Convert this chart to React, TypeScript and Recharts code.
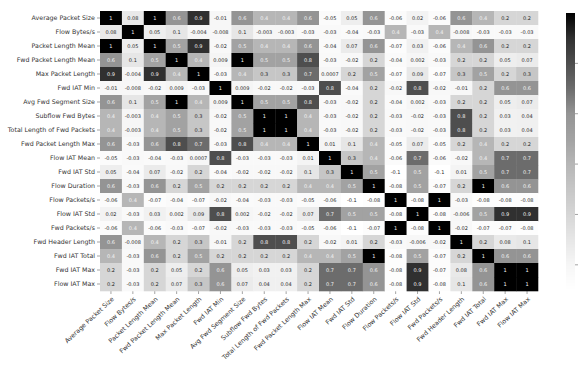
import { ScatterChart, Scatter, XAxis, YAxis } from "recharts";

const features = [
  "Average Packet Size",
  "Flow Bytes/s",
  "Packet Length Mean",
  "Fwd Packet Length Mean",
  "Max Packet Length",
  "Fwd IAT Min",
  "Avg Fwd Segment Size",
  "Subflow Fwd Bytes",
  "Total Length of Fwd Packets",
  "Fwd Packet Length Max",
  "Flow IAT Mean",
  "Fwd IAT Std",
  "Flow Duration",
  "Flow Packets/s",
  "Flow IAT Std",
  "Fwd Packets/s",
  "Fwd Header Length",
  "Fwd IAT Total",
  "Fwd IAT Max",
  "Flow IAT Max",
];

// correlation rows
const rowAvgPacketSize = [1, 0.08, 1, 0.6, 0.9, -0.01, 0.6, 0.4, 0.4, 0.6, -0.05, 0.05, 0.6, -0.06, 0.02, -0.06, 0.6, 0.4, 0.2, 0.2];
const rowFlowBytes = [0.08, 1, 0.05, 0.1, -0.004, -0.008, 0.1, -0.003, -0.003, -0.03, -0.03, -0.04, -0.03, 0.4, -0.03, 0.4, -0.008, -0.03, -0.03, -0.03];
const rowPacketLenMean = [1, 0.05, 1, 0.5, 0.9, -0.02, 0.5, 0.4, 0.4, 0.6, -0.04, 0.07, 0.6, -0.07, 0.03, -0.06, 0.4, 0.6, 0.2, 0.2];
const rowFwdPacketLenMean = [0.6, 0.1, 0.5, 1, 0.4, 0.009, 1, 0.5, 0.5, 0.8, -0.03, -0.02, 0.2, -0.04, 0.002, -0.03, 0.2, 0.2, 0.05, 0.07];
const rowMaxPacketLen = [0.9, -0.004, 0.9, 0.4, 1, -0.03, 0.4, 0.3, 0.3, 0.7, 0.0007, 0.2, 0.5, -0.07, 0.09, -0.07, 0.3, 0.5, 0.2, 0.3];
const rowFwdIatMin = [-0.01, -0.008, -0.02, 0.009, -0.03, 1, 0.009, -0.02, -0.02, -0.03, 0.8, -0.04, 0.2, -0.02, 0.8, -0.02, -0.01, 0.2, 0.6, 0.6];
const rowAvgFwdSegSize = [0.6, 0.1, 0.5, 1, 0.4, 0.009, 1, 0.5, 0.5, 0.8, -0.03, -0.02, 0.2, -0.04, 0.002, -0.03, 0.2, 0.2, 0.05, 0.07];
const rowSubflowFwdBytes = [0.4, -0.003, 0.4, 0.5, 0.3, -0.02, 0.5, 1, 1, 0.4, -0.03, -0.02, 0.2, -0.03, -0.02, -0.03, 0.8, 0.2, 0.03, 0.04];
const rowTotalLenFwd = [0.4, -0.003, 0.4, 0.5, 0.3, -0.02, 0.5, 1, 1, 0.4, -0.03, -0.02, 0.2, -0.03, -0.02, -0.03, 0.8, 0.2, 0.03, 0.04];
const rowFwdPacketLenMax = [0.6, -0.03, 0.6, 0.8, 0.7, -0.03, 0.8, 0.4, 0.4, 1, 0.01, 0.1, 0.4, -0.05, 0.07, -0.05, 0.2, 0.4, 0.2, 0.2];
const rowFlowIatMean = [-0.05, -0.03, -0.04, -0.03, 0.0007, 0.8, -0.03, -0.03, -0.03, 0.01, 1, 0.3, 0.4, -0.06, 0.7, -0.06, -0.02, 0.4, 0.7, 0.7];
const rowFwdIatStd = [0.05, -0.04, 0.07, -0.02, 0.2, -0.04, -0.02, -0.02, -0.02, 0.1, 0.3, 1, 0.5, -0.1, 0.5, -0.1, 0.01, 0.5, 0.7, 0.7];
const rowFlowDuration = [0.6, -0.03, 0.6, 0.2, 0.5, 0.2, 0.2, 0.2, 0.2, 0.4, 0.4, 0.5, 1, -0.08, 0.5, -0.07, 0.2, 1, 0.6, 0.6];
const rowFlowPackets = [-0.06, 0.4, -0.07, -0.04, -0.07, -0.02, -0.04, -0.03, -0.03, -0.05, -0.06, -0.1, -0.08, 1, -0.08, 1, -0.03, -0.08, -0.08, -0.08];
const rowFlowIatStd = [0.02, -0.03, 0.03, 0.002, 0.09, 0.8, 0.002, -0.02, -0.02, 0.07, 0.7, 0.5, 0.5, -0.08, 1, -0.08, -0.006, 0.5, 0.9, 0.9];
const rowFwdPackets = [-0.06, 0.4, -0.06, -0.03, -0.07, -0.02, -0.03, -0.03, -0.03, -0.05, -0.06, -0.1, -0.07, 1, -0.08, 1, -0.02, -0.07, -0.07, -0.08];
const rowFwdHeaderLen = [0.6, -0.008, 0.4, 0.2, 0.3, -0.01, 0.2, 0.8, 0.8, 0.2, -0.02, 0.01, 0.2, -0.03, -0.006, -0.02, 1, 0.2, 0.08, 0.1];
const rowFwdIatTotal = [0.4, -0.03, 0.6, 0.2, 0.5, 0.2, 0.2, 0.2, 0.2, 0.4, 0.4, 0.5, 1, -0.08, 0.5, -0.07, 0.2, 1, 0.6, 0.6];
const rowFwdIatMax = [0.2, -0.03, 0.2, 0.05, 0.2, 0.6, 0.05, 0.03, 0.03, 0.2, 0.7, 0.7, 0.6, -0.08, 0.9, -0.07, 0.08, 0.6, 1, 1];
const rowFlowIatMax = [0.2, -0.03, 0.2, 0.07, 0.3, 0.6, 0.07, 0.04, 0.04, 0.2, 0.7, 0.7, 0.6, -0.08, 0.9, -0.08, 0.1, 0.6, 1, 1];

const matrix = [
  rowAvgPacketSize, rowFlowBytes, rowPacketLenMean, rowFwdPacketLenMean, rowMaxPacketLen,
  rowFwdIatMin, rowAvgFwdSegSize, rowSubflowFwdBytes, rowTotalLenFwd, rowFwdPacketLenMax,
  rowFlowIatMean, rowFwdIatStd, rowFlowDuration, rowFlowPackets, rowFlowIatStd,
  rowFwdPackets, rowFwdHeaderLen, rowFwdIatTotal, rowFwdIatMax, rowFlowIatMax,
];

const colorbarTicks = [0.0, 0.2, 0.4, 0.6, 0.8];

const VMIN = -0.1;
const VMAX = 1;

const cells: { col: number; row: number; v: number }[] = [];
matrix.forEach((r, i) => r.forEach((v, j) => cells.push({ col: j, row: i, v })));

// grey ramp (value -> grey level), tuned to the washed-out look of the picture
const rampAt = [-0.1, 0, 0.2, 0.4, 0.5, 0.6, 0.7, 0.8, 0.9, 1];
const rampGrey = [255, 246, 214, 182, 162, 148, 108, 78, 48, 0];
function greyLevel(v: number) {
  if (v <= rampAt[0]) return rampGrey[0];
  for (let i = 1; i < rampAt.length; i++) {
    if (v <= rampAt[i]) {
      const f = (v - rampAt[i - 1]) / (rampAt[i] - rampAt[i - 1]);
      return rampGrey[i - 1] + (rampGrey[i] - rampGrey[i - 1]) * f;
    }
  }
  return rampGrey[rampGrey.length - 1];
}
function grey(v: number) {
  const g = Math.round(greyLevel(v));
  return `rgb(${g},${g},${g})`;
}

const W = 579;
const H = 376;
const left = 100;
const top = 11;
const right = 538;
const bottom = 291;
const cw = (right - left) / features.length;
const ch = (bottom - top) / features.length;

const HeatCell = (props: any) => {
  const { cx, cy, payload } = props;
  const txt = payload.v >= 0.35 ? "#f4f4f4" : "#262626";
  return (
    <g>
      <rect x={cx - cw / 2} y={cy - ch / 2} width={cw + 0.3} height={ch + 0.3} fill={grey(payload.v)} />
      <text x={cx} y={cy} dy={1.8} textAnchor="middle" fontSize={5} fill={txt}>
        {String(payload.v)}
      </text>
    </g>
  );
};

const XTick = (props: any) => {
  const { x, y, payload } = props;
  return (
    <g transform={`translate(${x},${y})`}>
      <text transform="rotate(-43)" textAnchor="end" dy={5} fontSize={6.4} fill="#333">
        {features[payload.value]}
      </text>
    </g>
  );
};

const YTick = (props: any) => {
  const { x, y, payload } = props;
  return (
    <text x={x} y={y} dy={2.2} textAnchor="end" fontSize={6.3} fill="#333">
      {features[payload.value]}
    </text>
  );
};

const idx = features.map((_, i) => i);

const cbTop = 13;
const cbBottom = 290;
const cbY = (v: number) => cbTop + ((VMAX - v) / (VMAX - VMIN)) * (cbBottom - cbTop);

function Colorbar() {
  const n = Math.round(cbBottom - cbTop);
  const strips = Array.from({ length: n }, (_, k) => k);
  return (
    <svg
      width={19}
      height={H}
      viewBox={`560 0 19 ${H}`}
      style={{ position: "absolute", left: 560, top: 0, display: "block" }}
    >
      {strips.map((k) => {
        const v = VMAX - ((k + 0.5) / n) * (VMAX - VMIN);
        return <rect key={k} x={566} y={cbTop + k} width={9} height={1.5} fill={grey(v)} />;
      })}
      {colorbarTicks.map((t) => (
        <g key={t}>
          <line x1={575} x2={578} y1={cbY(t)} y2={cbY(t)} stroke="#666" strokeWidth={0.6} />
          <text x={580} y={cbY(t) + 2} fontSize={6.3} fill="#333">{t.toFixed(1)}</text>
        </g>
      ))}
    </svg>
  );
}

export default function App() {
  return (
    <div style={{ position: "absolute", left: 0, top: 0, width: W, height: H, background: "#fff", fontFamily: "DejaVu Sans", overflow: "hidden" }}>
      <ScatterChart width={W} height={H} margin={{ top, right: W - right, bottom: 0, left: 0 }}>
        <XAxis
          type="number"
          dataKey="col"
          domain={[-0.5, 19.5]}
          ticks={idx}
          interval={0}
          axisLine={false}
          tickSize={3}
          tickLine={{ stroke: "#666", strokeWidth: 0.6 }}
          tick={<XTick />}
          height={H - bottom}
        />
        <YAxis
          type="number"
          dataKey="row"
          domain={[-0.5, 19.5]}
          reversed
          ticks={idx}
          interval={0}
          axisLine={false}
          width={left}
          tickSize={3}
          tickMargin={2}
          tickLine={{ stroke: "#666", strokeWidth: 0.6 }}
          tick={<YTick />}
        />
        <Scatter data={cells} shape={<HeatCell />} isAnimationActive={false} />
      </ScatterChart>
      <Colorbar />
    </div>
  );
}
